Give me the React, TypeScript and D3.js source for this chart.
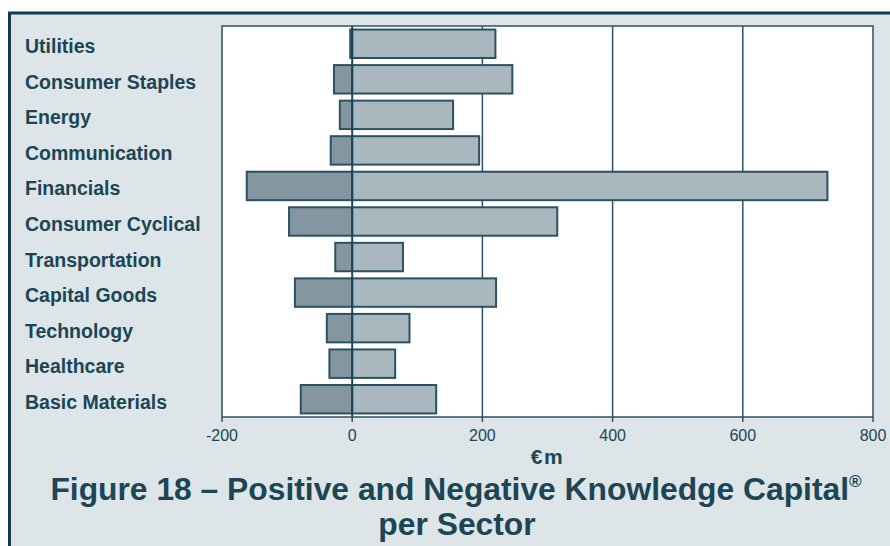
import * as React from "react";
import * as d3 from "d3";

// sector names, top to bottom
const sectors = [
  "Utilities",
  "Consumer Staples",
  "Energy",
  "Communication",
  "Financials",
  "Consumer Cyclical",
  "Transportation",
  "Capital Goods",
  "Technology",
  "Healthcare",
  "Basic Materials",
];

// €m
const negativeKC = [-3, -28, -19, -33, -162, -97, -26, -88, -39, -35, -79];
const positiveKC = [220, 246, 155, 195, 730, 315, 78, 221, 88, 66, 129];

const xTicks = [-200, 0, 200, 400, 600, 800];

const W = 890;
const H = 546;
const TEXT = "#1c4556";
const LINE = "#2c5163";
const PANEL = "#dde5e8";
const NEG_FILL = "#8497a0";
const POS_FILL = "#a9b8be";
const FONT = "'Liberation Sans', Arial, sans-serif";

export default function App() {
  const plot = { left: 222, right: 873, top: 26, bottom: 417 };

  const x = d3.scaleLinear().domain([-200, 800]).range([plot.left, plot.right]);
  const y = d3
    .scaleBand<string>()
    .domain(sectors)
    .range([plot.top, plot.bottom])
    .paddingInner(0.2)
    .paddingOuter(0.1);

  const rows = sectors.map((s, i) => ({ s, neg: negativeKC[i], pos: positiveKC[i] }));

  return (
    <svg
      width={W}
      height={H}
      style={{ position: "absolute", left: 0, top: 0, display: "block" }}
    >
      <rect x={0} y={0} width={W} height={H} fill="#ffffff" />
      {/* panel with frame on top and left */}
      <rect x={9.5} y={13} width={W} height={H} fill={PANEL} />
      <line x1={8} x2={W} y1={13} y2={13} stroke="#123a4c" strokeWidth={3} />
      <line x1={9.5} x2={9.5} y1={12} y2={H} stroke="#123a4c" strokeWidth={3} />

      {/* plot background */}
      <rect
        x={plot.left}
        y={plot.top}
        width={plot.right - plot.left}
        height={plot.bottom - plot.top}
        fill="#ffffff"
      />

      {/* gridlines */}
      {[200, 400, 600].map((t) => (
        <line
          key={t}
          x1={x(t)}
          x2={x(t)}
          y1={plot.top}
          y2={plot.bottom}
          stroke={LINE}
          strokeWidth={1.5}
        />
      ))}

      {/* bars */}
      {rows.map((d) => (
        <g key={d.s}>
          <rect
            x={x(d.neg)}
            y={y(d.s)}
            width={x(0) - x(d.neg)}
            height={y.bandwidth()}
            fill={NEG_FILL}
            stroke={LINE}
            strokeWidth={2}
          />
          <rect
            x={x(0)}
            y={y(d.s)}
            width={x(d.pos) - x(0)}
            height={y.bandwidth()}
            fill={POS_FILL}
            stroke={LINE}
            strokeWidth={2}
          />
        </g>
      ))}

      {/* zero line on top */}
      <line
        x1={x(0)}
        x2={x(0)}
        y1={plot.top}
        y2={plot.bottom}
        stroke="#1f4658"
        strokeWidth={2}
      />

      {/* plot frame */}
      <rect
        x={plot.left}
        y={plot.top}
        width={plot.right - plot.left}
        height={plot.bottom - plot.top}
        fill="none"
        stroke={LINE}
        strokeWidth={1.5}
      />

      {/* x ticks and labels */}
      {xTicks.map((t) => (
        <g key={t}>
          <line
            x1={x(t)}
            x2={x(t)}
            y1={plot.bottom}
            y2={plot.bottom + 5}
            stroke={LINE}
            strokeWidth={1.5}
          />
          <text
            x={x(t)}
            y={plot.bottom + 24}
            textAnchor="middle"
            fontFamily={FONT}
            fontSize={16}
            fill={TEXT}
          >
            {t}
          </text>
        </g>
      ))}

      {/* category labels */}
      {rows.map((d) => (
        <text
          key={d.s}
          x={25}
          y={(y(d.s) ?? 0) + y.bandwidth() / 2 + 9.5}
          fontFamily={FONT}
          fontWeight="bold"
          fontSize={19.5}
          fill={TEXT}
        >
          {d.s}
        </text>
      ))}

      {/* axis title */}
      <text
        x={x(300)}
        y={464}
        textAnchor="middle"
        fontFamily={FONT}
        fontWeight="bold"
        fontSize={21}
        letterSpacing={1.5}
        fill={TEXT}
      >
        €m
      </text>

      {/* figure caption */}
      <text
        x={456}
        y={500}
        textAnchor="middle"
        fontFamily={FONT}
        fontWeight="bold"
        fontSize={31.8}
        fill={TEXT}
      >
        Figure 18 – Positive and Negative Knowledge Capital
        <tspan fontSize={17} dy={-13}>®</tspan>
      </text>
      <text
        x={457}
        y={535}
        textAnchor="middle"
        fontFamily={FONT}
        fontWeight="bold"
        fontSize={31.8}
        fill={TEXT}
      >
        per Sector
      </text>
    </svg>
  );
}
